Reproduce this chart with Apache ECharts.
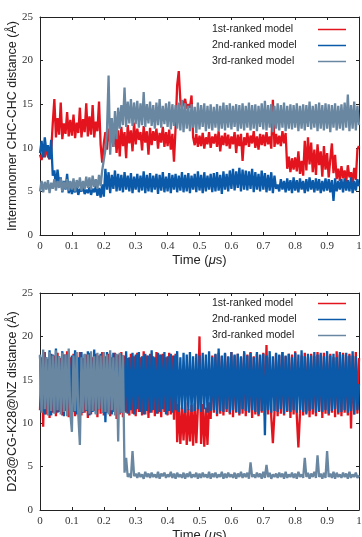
<!DOCTYPE html>
<html>
<head>
<meta charset="UTF-8">
<title></title>
<script src="https://cdn.jsdelivr.net/npm/echarts@6/dist/echarts.min.js"></script>
<style>
  html, body { margin: 0; padding: 0; background: #fff; }
  #chart { width: 362px; height: 537px; }
</style>
</head>
<body>
<div id="chart"></div>
<script>
// time step of the traces (microseconds), 201 samples from 0 to 1
var step = 0.005;
var names = ['1st-ranked model', '2nd-ranked model', '3rd-ranked model'];
var colors = ['#e3141d', '#0a5aa9', '#6a87a1'];
var yTicks = [0, 5, 10, 15, 20, 25];

// upper panel: intermonomer CHC-CHC distance
var top1 = [
  9.2, 8.6, 9.8, 8.9, 10.1, 9.0, 8.7, 9.6, 12.8, 15.6,
  11.2, 13.4, 11.5, 15.2, 11.0, 12.8, 11.6, 14.1, 11.3, 13.2,
  11.4, 13.8, 11.1, 12.9, 11.7, 14.6, 11.2, 13.3, 11.8, 15.1,
  11.3, 13.6, 11.5, 14.9, 11.2, 13.0, 11.9, 15.3, 10.4, 8.3,
  10.5, 11.8, 9.8, 12.2, 10.6, 11.5, 10.1, 12.3, 9.4, 12.0,
  9.0, 12.4, 10.2, 11.8, 8.8, 12.6, 10.5, 12.0, 9.6, 12.9,
  10.4, 12.2, 10.9, 11.8, 9.7, 12.5, 10.6, 11.9, 9.2, 12.3,
  10.3, 11.9, 10.8, 12.2, 9.9, 11.7, 10.6, 12.4, 10.1, 11.8,
  10.2, 12.1, 9.8, 11.6, 8.4, 12.3, 17.2, 18.8, 15.4, 14.6,
  14.7, 15.6, 14.5, 15.0, 14.6, 16.0, 11.2, 10.3, 11.6, 10.1,
  11.4, 10.2, 11.7, 9.9, 11.2, 10.4, 11.8, 10.0, 11.3, 10.5,
  11.6, 10.1, 11.9, 9.6, 11.4, 10.3, 11.7, 10.2, 11.5, 9.9,
  11.3, 10.4, 11.8, 9.4, 11.5, 10.2, 11.6, 8.5, 11.2, 10.3,
  11.7, 10.1, 11.4, 10.5, 11.9, 10.0, 11.3, 9.8, 11.6, 10.3,
  11.5, 10.2, 11.8, 10.4, 11.3, 9.9, 15.5, 10.1, 11.6, 10.4,
  11.4, 10.2, 11.9, 10.5, 11.7, 7.6, 9.0, 7.2, 8.8, 7.5,
  8.9, 7.3, 9.6, 7.0, 8.5, 6.8, 10.8, 7.4, 11.2, 8.1,
  10.6, 7.2, 9.8, 6.9, 10.4, 8.0, 9.6, 6.7, 10.2, 7.5,
  9.4, 6.6, 8.7, 10.5, 7.1, 9.2, 6.4, 7.6, 6.2, 7.9,
  6.5, 7.4, 6.1, 8.0, 6.6, 7.2, 6.0, 7.7, 6.3, 9.8,
  10.2
];
var top2 = [
  9.4, 10.8, 8.9, 11.2, 9.6, 10.3, 8.7, 10.9, 6.8, 7.4,
  5.6, 7.5, 5.9, 6.6, 4.9, 6.2, 5.2, 7.0, 4.8, 5.6,
  4.7, 5.4, 4.9, 5.6, 4.6, 5.3, 5.0, 5.5, 4.7, 5.2,
  4.8, 5.5, 4.6, 5.3, 4.9, 5.6, 4.5, 5.4, 4.3, 5.8,
  4.4, 7.6, 5.2, 7.2, 4.8, 6.9, 5.3, 7.4, 5.0, 7.0,
  5.1, 6.9, 4.9, 7.2, 5.2, 6.8, 5.0, 7.1, 4.8, 6.7,
  5.2, 7.0, 4.9, 6.8, 5.1, 7.3, 4.8, 6.9, 5.0, 7.1,
  4.9, 6.8, 5.2, 7.0, 4.7, 6.9, 5.1, 7.2, 4.9, 6.7,
  5.0, 7.1, 4.8, 6.9, 5.2, 7.0, 4.9, 6.8, 5.1, 7.2,
  4.9, 6.9, 5.0, 7.1, 4.8, 6.8, 5.2, 7.0, 4.9, 7.3,
  5.1, 6.9, 4.8, 7.2, 5.0, 6.8, 5.2, 7.0, 4.9, 7.1,
  5.0, 7.2, 5.1, 6.9, 4.7, 7.3, 5.2, 7.0, 5.0, 7.4,
  5.3, 7.6, 5.1, 7.3, 5.4, 7.7, 5.0, 7.5, 5.2, 7.4,
  5.1, 7.3, 5.3, 7.6, 4.9, 7.2, 5.2, 7.0, 5.0, 7.4,
  5.2, 7.1, 4.9, 6.9, 5.1, 7.2, 4.8, 6.8, 5.3, 5.8,
  5.0, 6.4, 5.2, 6.2, 4.9, 6.5, 5.1, 6.3, 4.8, 6.6,
  5.1, 6.3, 4.9, 6.5, 5.2, 6.2, 4.8, 6.4, 5.0, 6.6,
  5.2, 6.3, 4.9, 6.5, 5.1, 6.4, 4.8, 6.2, 5.0, 6.5,
  5.1, 6.4, 4.9, 6.3, 3.9, 6.5, 5.0, 6.2, 5.2, 6.4,
  4.9, 6.5, 5.1, 6.3, 5.0, 6.6, 4.8, 6.2, 5.1, 6.4,
  5.6
];
var top3 = [
  5.0, 6.2, 4.9, 6.1, 5.2, 6.3, 4.8, 6.0, 5.3, 6.4,
  5.1, 6.2, 5.4, 6.5, 5.0, 6.1, 5.3, 6.4, 5.1, 6.2,
  5.2, 6.5, 5.0, 6.3, 5.4, 6.6, 5.1, 6.2, 5.3, 6.7,
  5.4, 6.6, 5.2, 6.8, 5.5, 6.4, 5.3, 6.9, 5.6, 7.4,
  7.5, 9.8, 12.0, 18.3, 9.2, 13.4, 10.1, 14.2, 11.0, 14.6,
  12.2, 14.9, 12.6, 16.9, 12.4, 15.3, 12.8, 15.6, 12.5, 15.2,
  12.7, 15.4, 12.3, 15.1, 12.6, 16.4, 12.4, 15.0, 12.8, 15.3,
  12.5, 14.9, 12.2, 15.2, 12.6, 15.6, 12.3, 14.8, 12.7, 15.1,
  12.4, 15.3, 12.1, 15.0, 12.5, 14.9, 12.2, 15.2, 12.0, 15.5,
  11.8, 15.1, 12.2, 14.8, 11.9, 15.0, 12.3, 14.7, 11.7, 15.2,
  12.1, 14.9, 12.4, 15.1, 11.9, 14.8, 12.2, 15.0, 12.0, 14.7,
  12.3, 15.0, 11.9, 14.8, 12.2, 15.2, 12.0, 14.9, 12.3, 15.1,
  12.1, 14.8, 12.4, 15.0, 11.9, 14.9, 12.2, 15.1, 12.0, 14.8,
  12.3, 15.2, 12.0, 14.9, 12.2, 15.0, 11.9, 14.8, 12.4, 15.1,
  12.1, 15.4, 12.0, 14.9, 12.3, 15.0, 11.8, 14.8, 12.2, 15.1,
  12.0, 14.9, 12.3, 15.2, 11.9, 14.8, 12.2, 15.0, 12.1, 14.9,
  12.3, 15.1, 11.9, 14.8, 12.2, 15.0, 12.0, 14.9, 12.4, 15.3,
  12.1, 14.8, 12.3, 15.0, 11.9, 15.2, 12.2, 14.9, 12.0, 15.1,
  12.2, 15.0, 11.8, 14.9, 12.3, 15.1, 12.0, 14.8, 12.2, 15.0,
  12.0, 15.2, 12.3, 16.1, 11.9, 14.9, 12.2, 15.3, 12.0, 14.8,
  12.6
];

// lower panel: D23@CG-K28@NZ distance
var bot1 = [
  11.5, 17.6, 9.6, 18.2, 11.0, 17.4, 10.6, 18.0, 11.2, 17.8,
  10.8, 18.1, 11.3, 17.5, 10.9, 17.9, 11.4, 18.3, 10.7, 17.6,
  11.1, 18.0, 10.8, 17.7, 11.3, 18.2, 10.9, 17.5, 11.2, 17.9,
  10.6, 18.1, 11.0, 17.6, 11.4, 18.0, 10.7, 17.8, 11.1, 18.2,
  10.9, 17.7, 11.2, 18.0, 10.8, 17.6, 11.3, 18.1, 10.5, 17.9,
  11.0, 18.2, 10.7, 17.8, 11.2, 17.5, 10.9, 18.0, 11.1, 17.7,
  10.8, 18.1, 11.3, 17.6, 10.9, 18.3, 11.0, 17.8, 10.6, 18.0,
  11.2, 17.7, 10.8, 18.2, 11.1, 17.9, 10.7, 18.0, 11.3, 17.6,
  10.9, 18.1, 11.0, 17.8, 10.4, 18.0, 7.8, 12.2, 7.6, 11.8,
  8.0, 12.4, 7.5, 11.6, 7.9, 12.1, 7.4, 12.3, 7.7, 11.9,
  20.0, 7.6, 12.2, 7.3, 11.8, 7.5, 12.4, 10.5, 17.8, 11.2,
  17.9, 10.8, 18.1, 11.1, 17.7, 10.9, 18.0, 11.3, 17.6, 11.0,
  18.2, 10.7, 17.8, 11.2, 18.0, 10.9, 17.6, 11.1, 18.1, 10.8,
  17.9, 11.3, 18.2, 10.6, 17.7, 11.0, 18.0, 10.8, 17.8, 11.2,
  18.1, 10.9, 19.0, 11.0, 17.6, 10.7, 7.7, 11.2, 18.0, 10.8,
  17.8, 11.1, 18.2, 10.9, 17.7, 11.3, 18.0, 10.6, 17.9, 11.0,
  18.3, 10.8, 7.2, 11.1, 17.8, 10.9, 18.1, 11.2, 17.6, 10.7,
  18.0, 11.0, 17.7, 10.8, 18.2, 11.3, 17.9, 10.6, 18.1, 11.1,
  17.8, 10.9, 18.0, 11.2, 17.6, 10.7, 18.3, 11.0, 17.9, 10.8,
  18.1, 11.2, 17.7, 10.9, 18.0, 9.4, 17.8, 11.0, 18.2, 11.1,
  17.5
];
var bot2 = [
  17.8, 11.4, 18.2, 11.0, 17.6, 11.5, 18.4, 10.9, 17.9, 11.3,
  18.6, 11.2, 17.7, 11.6, 18.3, 10.8, 17.9, 11.4, 18.1, 11.1,
  17.8, 11.3, 18.4, 11.0, 17.6, 11.5, 18.2, 11.2, 17.9, 11.4,
  18.3, 10.9, 17.7, 11.3, 18.5, 11.1, 17.8, 11.6, 18.0, 11.2,
  17.6, 10.1, 18.2, 11.4, 17.9, 11.0, 18.1, 11.3, 17.7, 11.5,
  18.0, 11.2, 17.8, 11.4, 18.3, 11.1, 17.6, 11.5, 18.1, 11.0,
  17.9, 11.6, 18.2, 11.3, 17.7, 11.0, 18.0, 11.4, 17.8, 11.2,
  18.4, 11.5, 17.6, 11.1, 18.1, 11.3, 17.9, 11.6, 18.2, 11.0,
  17.7, 11.4, 18.0, 11.2, 17.8, 11.5, 18.3, 11.3, 17.6, 11.6,
  18.1, 11.2, 17.9, 11.5, 18.2, 11.3, 17.7, 11.4, 18.0, 11.6,
  17.8, 11.3, 18.1, 11.6, 17.9, 11.2, 18.3, 11.4, 17.6, 11.5,
  18.0, 11.1, 18.6, 11.4, 17.8, 11.3, 18.1, 11.6, 17.7, 11.2,
  18.2, 11.5, 17.9, 11.3, 18.0, 11.1, 17.7, 11.6, 18.3, 11.4,
  17.8, 11.2, 18.1, 11.5, 17.6, 11.3, 18.2, 11.0, 17.9, 11.4,
  18.0, 8.6, 17.8, 11.5, 18.3, 11.2, 17.7, 11.4, 18.1, 11.3,
  17.9, 11.6, 18.2, 11.1, 17.8, 11.4, 18.0, 11.3, 17.6, 11.5,
  18.1, 11.2, 17.9, 11.5, 18.4, 11.3, 17.7, 11.0, 18.0, 11.4,
  17.8, 11.6, 18.2, 11.2, 17.9, 11.4, 18.1, 11.3, 17.7, 11.5,
  18.3, 11.1, 17.8, 11.4, 18.0, 11.6, 17.6, 11.2, 18.2, 11.3,
  17.9, 11.5, 18.1, 11.2, 17.8, 11.4, 18.3, 11.0, 17.7, 11.5,
  14.5
];
var bot3 = [
  17.9, 11.2, 18.5, 11.6, 17.6, 10.9, 18.2, 11.4, 17.8, 11.1,
  18.4, 11.5, 17.7, 11.0, 18.1, 11.3, 17.9, 10.8, 18.6, 11.2,
  9.0, 17.8, 11.4, 18.2, 11.0, 7.5, 17.6, 11.3, 18.0, 11.5,
  17.9, 11.1, 18.3, 11.4, 17.7, 11.0, 18.1, 11.6, 17.8, 11.2,
  18.2, 11.3, 17.9, 11.0, 18.4, 11.5, 17.6, 10.9, 18.0, 7.9,
  18.1, 11.2, 17.8, 4.3, 6.0, 3.8, 4.2, 3.7, 6.8, 3.9,
  4.2, 3.7, 4.3, 3.8, 4.1, 3.6, 4.4, 3.8, 4.2, 3.7,
  4.3, 3.8, 4.1, 3.7, 4.4, 3.6, 4.2, 3.9, 4.3, 3.7,
  4.1, 3.8, 4.4, 3.7, 4.2, 3.6, 4.3, 3.8, 4.1, 3.7,
  4.3, 3.6, 4.2, 3.8, 4.4, 3.7, 4.1, 3.8, 4.3, 3.6,
  4.2, 3.7, 4.3, 3.8, 4.1, 3.7, 4.4, 3.6, 4.2, 3.8,
  4.3, 3.7, 4.1, 3.8, 4.4, 3.6, 4.2, 3.7, 4.3, 3.8,
  4.1, 3.7, 4.3, 3.6, 4.2, 3.8, 4.4, 3.7, 4.2, 3.8,
  4.3, 3.6, 5.5, 3.8, 4.1, 3.7, 4.3, 3.8, 4.2, 3.6,
  4.4, 3.7, 5.2, 3.8, 4.3, 3.6, 4.1, 3.8, 4.2, 3.7,
  4.3, 3.8, 4.2, 3.6, 4.4, 3.7, 4.1, 3.8, 4.3, 3.7,
  4.2, 3.6, 4.4, 3.8, 4.1, 3.7, 6.0, 3.8, 4.3, 3.6,
  4.2, 3.8, 4.4, 3.7, 6.3, 3.8, 4.2, 3.6, 4.3, 3.7,
  6.8, 3.8, 4.2, 3.7, 4.4, 3.6, 4.3, 3.8, 4.1, 3.7,
  4.3, 3.8, 4.2, 3.6, 4.4, 3.7, 4.1, 3.8, 4.3, 3.7,
  4.0
];

function pairs(arr) {
  return arr.map(function (v, i) { return [+(i * step).toFixed(3), v]; });
}

var serifFont = '"Liberation Serif", "DejaVu Serif", serif';
var sansFont = '"Liberation Sans", Arial, sans-serif';

function xAx(grid, showName) {
  return [{
    type: 'value', gridIndex: grid, min: 0, max: 1, interval: 0.1,
    name: showName ? 'Time ({i|\u03bc}s)' : '',
    nameLocation: 'middle', nameGap: 19, nameMoveOverlap: false,
    nameTextStyle: { fontFamily: sansFont, fontSize: 13, color: '#222',
      rich: { i: { fontFamily: sansFont, fontStyle: 'italic', fontSize: 13, color: '#222' } } },
    axisLine: { onZero: false, lineStyle: { color: '#222', width: 1 } },
    axisTick: { inside: true, length: 3, lineStyle: { color: '#222' } },
    axisLabel: { fontFamily: serifFont, fontSize: 11, color: '#333', margin: 6 },
    splitLine: { show: false }
  }, {
    type: 'value', gridIndex: grid, position: 'top', min: 0, max: 1, interval: 0.1,
    axisLine: { onZero: false, lineStyle: { color: '#222', width: 1 } },
    axisTick: { inside: true, length: 3, lineStyle: { color: '#222' } },
    axisLabel: { show: false }, splitLine: { show: false }
  }];
}

function yAx(grid, title) {
  return [{
    type: 'value', gridIndex: grid, min: 0, max: 25, interval: 5,
    name: title, nameLocation: 'middle', nameGap: 21, nameMoveOverlap: false,
    nameTextStyle: { fontFamily: sansFont, fontSize: 12.5, color: '#222' },
    axisLine: { show: true, onZero: false, lineStyle: { color: '#222', width: 1 } },
    axisTick: { show: true, inside: true, length: 3, lineStyle: { color: '#222' } },
    axisLabel: { fontFamily: serifFont, fontSize: 11, color: '#333', margin: 7 },
    splitLine: { show: false }
  }, {
    type: 'value', gridIndex: grid, position: 'right', min: 0, max: 25, interval: 5,
    axisLine: { show: true, onZero: false, lineStyle: { color: '#222', width: 1 } },
    axisTick: { show: true, inside: true, length: 3, lineStyle: { color: '#222' } },
    axisLabel: { show: false }, splitLine: { show: false }
  }];
}

function line(name, grid, arr, color) {
  return {
    name: name, type: 'line', xAxisIndex: grid * 2, yAxisIndex: grid * 2,
    data: pairs(arr), showSymbol: false, symbol: 'none', sampling: null,
    lineStyle: { color: color, width: 2.3, join: 'bevel' }, itemStyle: { color: color },
    emphasis: { disabled: true }
  };
}

function legendAt(top) {
  return {
    orient: 'vertical', right: 11, top: top, align: 'right',
    icon: 'rect', itemWidth: 28, itemHeight: 1.5, itemGap: 3,
    data: names,
    formatter: function (n) { return '{a|' + n + '}'; },
    textStyle: { fontFamily: sansFont, fontSize: 10.5, color: '#222', lineHeight: 13,
      rich: { a: { width: 101, align: 'left', fontFamily: sansFont, fontSize: 10.5, color: '#222', lineHeight: 13 } } }
  };
}

var chart = echarts.init(document.getElementById('chart'), null, { renderer: 'canvas' });
chart.setOption({
  animation: false,
  backgroundColor: '#fff',
  grid: [
    { left: 40, top: 17, width: 319, height: 218, containLabel: false, outerBoundsMode: 'none' },
    { left: 40, top: 293, width: 319, height: 217, containLabel: false, outerBoundsMode: 'none' }
  ],
  legend: [legendAt(18), legendAt(292)],
  xAxis: xAx(0, true).concat(xAx(1, true)),
  yAxis: yAx(0, 'Intermonomer CHC-CHC distance (\u00c5)').concat(yAx(1, 'D23@CG-K28@NZ distance (\u00c5)')),
  series: [
    line(names[0], 0, top1, colors[0]),
    line(names[1], 0, top2, colors[1]),
    line(names[2], 0, top3, colors[2]),
    line(names[0], 1, bot1, colors[0]),
    line(names[1], 1, bot2, colors[1]),
    line(names[2], 1, bot3, colors[2])
  ]
});
</script>
</body>
</html>
